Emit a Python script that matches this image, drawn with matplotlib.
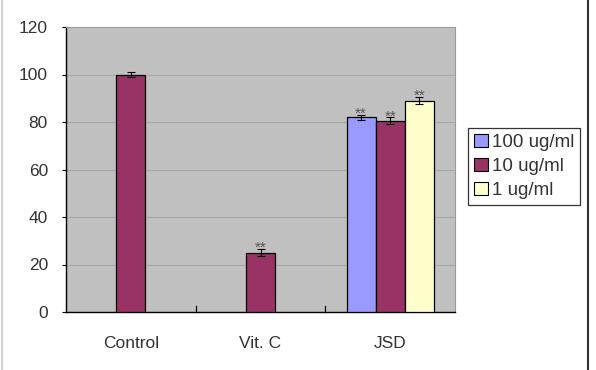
import matplotlib
matplotlib.use("Agg")
from matplotlib import pyplot as plt
from matplotlib.lines import Line2D

# - Data

groups = ["Control", "Vit. C", "JSD"]
series = ["100 ug/ml", "10 ug/ml", "1 ug/ml"]
colors = ["#9999FF", "#993366", "#FFFFCC"]

control_val, control_err = 100, 1.0
vitc_val, vitc_err = 25, 1.5
jsd_vals = [82, 80.5, 89]
jsd_errs = [1.0, 1.5, 1.5]
jsd_marks = ["**", "**", "**"]
vitc_mark = "**"

# - Plot

plt.rcParams["font.family"] = ["Liberation Sans", "DejaVu Sans"]

fig = plt.figure(figsize=(5.96, 3.70), dpi=100)
ax = fig.add_axes([66 / 596, 1 - 312 / 370, 389 / 596, 285 / 370])
ax.set_facecolor("#C0C0C0")

width = 0.224
err_kw = dict(ecolor="black", elinewidth=0.8, capsize=3, capthick=0.8)
bar_kw = dict(width=width, edgecolor="black", linewidth=0.9, zorder=3)
star_kw = dict(ha="center", va="bottom", fontsize=11, color="#555555", zorder=4)

ax.bar(0, control_val, yerr=control_err, color=colors[1], error_kw=err_kw, **bar_kw)
ax.bar(1, vitc_val, yerr=vitc_err, color=colors[1], error_kw=err_kw, **bar_kw)
for i in range(3):
    x = 2 + (i - 1) * width
    ax.bar(x, jsd_vals[i], yerr=jsd_errs[i], color=colors[i], error_kw=err_kw, **bar_kw)
    ax.text(x, jsd_vals[i] + jsd_errs[i] - 2.6, jsd_marks[i], **star_kw)
ax.text(1, vitc_val + vitc_err - 2.6, vitc_mark, **star_kw)

ax.set_xlim(-0.5, 2.5)
ax.set_ylim(0, 120)
ax.set_yticks(range(0, 121, 20))
ax.yaxis.grid(True, color="#A8A8A8", linewidth=0.8)
ax.set_axisbelow(True)

ax.set_xticks(range(3))
ax.set_xticklabels(groups, fontsize=12.5, color="#333333")
ax.tick_params(axis="x", length=0, pad=17)
ax.tick_params(axis="y", labelsize=12.5, labelcolor="#333333", length=3, width=0.8, pad=10)
for xb in [0.5, 1.5]:
    ax.plot([xb, xb], [0, 2.5], color="black", linewidth=0.9, zorder=4, clip_on=False)

for s in ["top", "right"]:
    ax.spines[s].set_color("#9A9A9A")
    ax.spines[s].set_linewidth(0.8)
for s in ["left", "bottom"]:
    ax.spines[s].set_color("black")
    ax.spines[s].set_linewidth(1.0)

handles = [plt.Rectangle((0, 0), 1, 1, facecolor=c, edgecolor="black", linewidth=0.8) for c in colors]
leg = fig.legend(handles, series, loc="upper left", bbox_to_anchor=(468 / 596, 1 - 128 / 370),
                 fontsize=13.5, frameon=True, fancybox=False, handlelength=0.75, handleheight=0.75,
                 handletextpad=0.25, borderpad=0.3, labelspacing=0.35, borderaxespad=0)
leg.get_frame().set_edgecolor("black")
leg.get_frame().set_linewidth(0.9)
for t in leg.get_texts():
    t.set_color("#333333")

# outer frame
fig.add_artist(Line2D([2 / 596, 2 / 596], [0, 1], color="#D0D0D0", linewidth=1.5))
fig.add_artist(Line2D([588 / 596, 588 / 596], [0, 1], color="#333333", linewidth=1.5))

fig.savefig("out.png", dpi=100)
